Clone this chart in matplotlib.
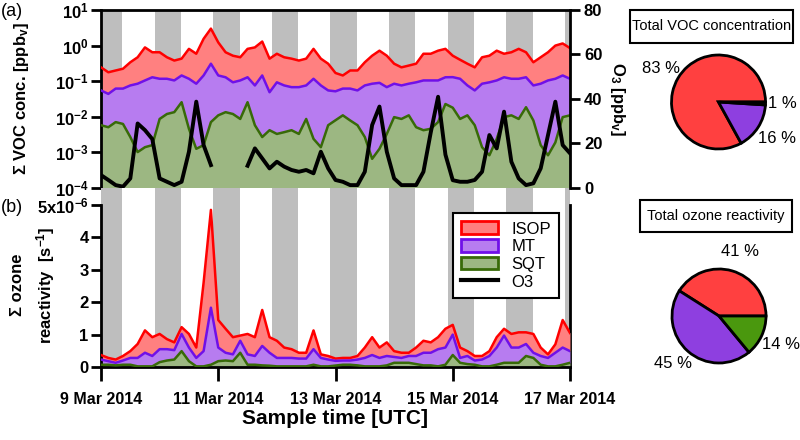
import numpy as np
import pandas as pd
import matplotlib
matplotlib.use('Agg')
import matplotlib.pyplot as plt
from matplotlib.patches import Rectangle, Patch
from matplotlib.lines import Line2D
from matplotlib.ticker import NullLocator

plt.rcParams['font.family'] = ['Liberation Sans', 'DejaVu Sans']
plt.rcParams['mathtext.fontset'] = 'custom'
plt.rcParams['mathtext.rm'] = 'Liberation Sans'
plt.rcParams['mathtext.bf'] = 'Liberation Sans:bold'
plt.rcParams['mathtext.it'] = 'Liberation Sans:italic'

# ---------------- data ----------------
times = pd.date_range('2014-03-09 00:00', '2014-03-17 00:00', freq='3h')

# (a) concentrations [ppbv]
voc_isop = [0.245, 0.178, 0.20, 0.224, 0.34, 0.47, 0.89, 0.65, 0.65, 0.47, 0.38, 0.43, 0.81, 0.59, 1.55, 3.0,
            1.23, 0.65, 0.52, 0.47, 0.81, 0.89, 1.3, 0.43, 0.59, 0.47, 0.43, 0.38, 0.43, 0.81, 0.43, 0.31,
            0.17, 0.145, 0.20, 0.20, 0.34, 0.52, 0.72, 0.52, 0.31, 0.245, 0.275, 0.31, 0.59, 0.59, 0.72, 0.81,
            0.52, 0.40, 0.31, 0.245, 0.47, 0.52, 0.72, 0.59, 0.65, 0.81, 0.65, 0.34, 0.47, 0.65, 1.0, 1.15, 0.85]
voc_mt = [0.055, 0.044, 0.062, 0.062, 0.076, 0.085, 0.105, 0.129, 0.117, 0.117, 0.105, 0.145, 0.117, 0.085, 0.145, 0.31,
          0.145, 0.129, 0.093, 0.105, 0.129, 0.076, 0.145, 0.049, 0.093, 0.076, 0.068, 0.068, 0.076, 0.117, 0.076, 0.055,
          0.052, 0.062, 0.062, 0.055, 0.076, 0.085, 0.09, 0.068, 0.085, 0.076, 0.085, 0.093, 0.105, 0.105, 0.105, 0.129,
          0.13, 0.117, 0.076, 0.055, 0.085, 0.093, 0.105, 0.129, 0.117, 0.117, 0.129, 0.076, 0.085, 0.105, 0.117, 0.145, 0.117]
voc_sqt = [0.0058, 0.0051, 0.0071, 0.0063, 0.0027, 0.00102, 0.0014, 0.0016, 0.0087, 0.012, 0.0135, 0.0257, 0.0046, 0.00126, 0.0016, 0.0071,
           0.011, 0.0135, 0.012, 0.0087, 0.0257, 0.0058, 0.0027, 0.0042, 0.0033, 0.0037, 0.0042, 0.0033, 0.0087, 0.0024, 0.0014, 0.0058,
           0.008, 0.011, 0.0079, 0.0058, 0.0027, 0.00066, 0.00126, 0.0033, 0.0098, 0.0087, 0.011, 0.0051, 0.0042, 0.0046, 0.0071, 0.0229,
           0.018, 0.0087, 0.011, 0.0058, 0.0014, 0.00083, 0.0024, 0.0098, 0.011, 0.0087, 0.0186, 0.0079, 0.0016, 0.00083, 0.0019, 0.0098, 0.011]
nan = np.nan
o3 = [5.8, 3.6, 1.3, 0.6, 4.3, 29, 26, 22, 4.3, 2.8, 1.3, 2.8, 16.3, 38.8, 19.3, 10.3,
      nan, nan, nan, nan, 10, 17.8, 13.3, 8.8, 11.8, 9.6, 8.1, 7.3, 8.1, 6.6, 16.3, 8.8,
      3.6, 2.8, 1.3, 1.3, 7.3, 28.3, 36.6, 16.3, 4.3, 1.3, 1.3, 1.3, 7.3, 25, 41, 15,
      3.5, 2.8, 2.8, 3.6, 7.3, 23.8, 17.8, 34.3, 11.8, 4.3, 1.3, 2.1, 8.8, 23.8, 38.8, 19.3, 15.6]

# (b) ozone reactivity contributions [1e-6 s^-1] (stacked)
react_isop = [0.14, 0.10, 0.10, 0.14, 0.21, 0.43, 0.69, 0.58, 0.47, 0.31, 0.24, 0.21, 0.42, 0.32, 2.11, 3.02,
              0.85, 0.74, 0.53, 0.16, 0.63, 0.58, 1.11, 0.48, 0.53, 0.32, 0.27, 0.18, 0.18, 0.58, 0.11, 0.11,
              0.07, 0.08, 0.08, 0.11, 0.32, 0.55, 0.32, 0.42, 0.18, 0.16, 0.10, 0.26, 0.37, 0.32, 0.37, 0.58,
              0.30, 0.32, 0.15, 0.14, 0.11, 0.15, 0.32, 0.21, 0.42, 0.47, 0.36, 0.58, 0.26, 0.11, 0.26, 0.85, 0.56]
react_mt = [0.16, 0.11, 0.08, 0.13, 0.21, 0.26, 0.42, 0.32, 0.40, 0.35, 0.29, 0.53, 0.42, 0.26, 0.47, 1.76,
            0.42, 0.24, 0.21, 0.37, 0.32, 0.27, 0.60, 0.40, 0.26, 0.26, 0.26, 0.24, 0.24, 0.48, 0.26, 0.21,
            0.145, 0.13, 0.13, 0.18, 0.26, 0.35, 0.26, 0.29, 0.18, 0.15, 0.21, 0.25, 0.39, 0.39, 0.53, 0.53,
            0.63, 0.15, 0.25, 0.13, 0.21, 0.32, 0.53, 0.84, 0.47, 0.47, 0.37, 0.16, 0.27, 0.26, 0.42, 0.53, 0.36]
react_sqt = [0.07, 0.07, 0.05, 0.07, 0.07, 0.02, 0.02, 0.02, 0.15, 0.20, 0.23, 0.49, 0.18, 0.02, 0.02, 0.07,
             0.18, 0.20, 0.18, 0.44, 0.07, 0.07, 0.05, 0.04, 0.02, 0.02, 0.02, 0.02, 0.02, 0.07, 0.02, 0.02,
             0.045, 0.07, 0.07, 0.05, 0.02, 0.02, 0.02, 0.05, 0.13, 0.13, 0.13, 0.09, 0.05, 0.05, 0.02, 0.07,
             0.37, 0.13, 0.09, 0.07, 0.02, 0.02, 0.07, 0.13, 0.13, 0.13, 0.34, 0.28, 0.07, 0.02, 0.02, 0.07, 0.13]

species = ['ISOP', 'MT', 'SQT']
voc_share = [83, 16, 1]
voc_share_labels = ['83 %', '16 %', '1 %']
react_share = [41, 45, 14]
react_share_labels = ['41 %', '45 %', '14 %']

night_days = pd.date_range('2014-03-08', '2014-03-16', freq='D')
night_start = pd.Timedelta(hours=21, minutes=55)
night_end = pd.Timedelta(days=1, hours=8, minutes=45)

tick_dates = pd.to_datetime(['2014-03-09', '2014-03-11', '2014-03-13', '2014-03-15', '2014-03-17'])
tick_labels = ['9 Mar 2014', '11 Mar 2014', '13 Mar 2014', '15 Mar 2014', '17 Mar 2014']
voc_ticks = [1e-4, 1e-3, 1e-2, 1e-1, 1e0, 1e1]
voc_tick_labels = [r'$\mathbf{10^{-4}}$', r'$\mathbf{10^{-3}}$', r'$\mathbf{10^{-2}}$',
                   r'$\mathbf{10^{-1}}$', r'$\mathbf{10^{0}}$', r'$\mathbf{10^{1}}$']
o3_ticks = [0, 20, 40, 60, 80]
react_ticks = [0, 1, 2, 3, 4, 5]
react_tick_labels = ['0', '1', '2', '3', '4', r'$\mathbf{5x10^{-6}}$']

# ---------------- style ----------------
line_c = {'ISOP': '#ff0000', 'MT': '#7010e8', 'SQT': '#386a08'}
fill_c = {'ISOP': '#ff8080', 'MT': '#b77cf0', 'SQT': '#9cb782'}
pie_c = ['#ff4040', '#8e3fe0', '#4a980e']
band_c = '#bebebe'
LW = 1.8

W, H = 800, 440
fig = plt.figure(figsize=(8, 4.4), dpi=100)

def fx(px):
    return px / W

def fy(py):
    return 1 - py / H

ax_a = fig.add_axes([fx(101), fy(188), fx(570) - fx(101), fy(10) - fy(188)])
ax_b = fig.add_axes([fx(101), fy(367), fx(570) - fx(101), fy(188) - fy(367)])
ax_o3 = ax_a.twinx()

xlim = (times[0], times[-1])
for ax in (ax_a, ax_b):
    for d in night_days:
        ax.axvspan(d + night_start, d + night_end, color=band_c, lw=0, zorder=0)
    ax.set_xlim(xlim)

# ---- panel a ----
ax_a.set_yscale('log')
ax_a.set_ylim(1e-4, 10)
base = 1e-4
for name, vals in zip(species, [voc_isop, voc_mt, voc_sqt]):
    ax_a.fill_between(times, base, vals, color=fill_c[name], lw=0, zorder=2)
    ax_a.plot(times, vals, color=line_c[name], lw=LW, zorder=3)
ax_a.set_yticks(voc_ticks)
ax_a.set_yticklabels(voc_tick_labels, fontsize=12)
ax_a.yaxis.set_minor_locator(NullLocator())
ax_a.tick_params(axis='y', direction='out', length=7, width=2, pad=2)
ax_a.tick_params(axis='x', bottom=False, labelbottom=False)
ax_a.spines['bottom'].set_visible(False)
ax_a.spines['right'].set_visible(False)
ax_a.spines['top'].set_linewidth(2)
ax_a.spines['left'].set_linewidth(2)

ax_o3.plot(times, o3, color='black', lw=2.8, zorder=4)
ax_o3.set_ylim(0, 80)
ax_o3.set_yticks(o3_ticks)
ax_o3.set_yticklabels([str(v) for v in o3_ticks], fontsize=12, fontweight='bold')
ax_o3.tick_params(axis='y', direction='out', length=7, width=2, pad=3)
for s in ('top', 'bottom', 'left'):
    ax_o3.spines[s].set_visible(False)
ax_o3.spines['right'].set_linewidth(2)
ax_o3.set_xlim(xlim)

# ---- panel b ----
sqt_arr = np.array(react_sqt)
lev1 = sqt_arr
lev2 = lev1 + np.array(react_mt)
lev3 = lev2 + np.array(react_isop)
ax_b.fill_between(times, lev2, lev3, color=fill_c['ISOP'], lw=0, zorder=2)
ax_b.fill_between(times, lev1, lev2, color=fill_c['MT'], lw=0, zorder=2)
ax_b.fill_between(times, 0, lev1, color=fill_c['SQT'], lw=0, zorder=2)
ax_b.plot(times, lev3, color=line_c['ISOP'], lw=LW, zorder=3)
ax_b.plot(times, lev2, color=line_c['MT'], lw=LW, zorder=3)
ax_b.plot(times, lev1, color=line_c['SQT'], lw=LW, zorder=3)
ax_b.set_ylim(0, 5 * 179 / 162)
ax_b.set_yticks(react_ticks)
ax_b.set_yticklabels(react_tick_labels, fontsize=12, fontweight='bold')
ax_b.tick_params(axis='y', direction='out', length=7, width=2, pad=2)
ax_b.set_xticks(tick_dates)
ax_b.set_xticklabels(tick_labels, fontsize=11.5, fontweight='bold')
ax_b.tick_params(axis='x', direction='out', length=10, width=2, pad=8)
ax_b.spines['top'].set_visible(False)
for s in ('left', 'right', 'bottom'):
    ax_b.spines[s].set_linewidth(2)
ax_b.spines['left'].set_bounds(0, 5)
ax_b.spines['right'].set_bounds(0, 5)
ax_b.spines['right'].set_zorder(1)

handles = [Patch(facecolor=fill_c[n], edgecolor=line_c[n], lw=2) for n in species]
handles.append(Line2D([], [], color='black', lw=3))
leg = ax_b.legend(handles, species + ['O3'], loc='upper left',
                  bbox_to_anchor=(fx(453), fy(213)), bbox_transform=fig.transFigure,
                  fancybox=False, framealpha=1, edgecolor='black', fontsize=12,
                  borderaxespad=0, handlelength=2.2, handleheight=0.8,
                  labelspacing=0.15, borderpad=0.5, handletextpad=0.8)
leg.get_frame().set_linewidth(1.5)
leg.set_zorder(10)

# ---- text labels ----
fig.text(fx(22), fy(99), r'Σ VOC conc. [ppb$_\mathbf{v}$]', rotation=90,
         ha='center', va='center', fontsize=12, fontweight='bold')
fig.text(fx(617), fy(99), r'O$_\mathbf{3}$ [ppb$_\mathbf{v}$]', rotation=270,
         ha='center', va='center', fontsize=12, fontweight='bold')
fig.text(fx(17), fy(285), 'Σ ozone', rotation=90, ha='center', va='center',
         fontsize=12, fontweight='bold')
fig.text(fx(46), fy(285), r'reactivity  [s$^\mathbf{-1}$]', rotation=90, ha='center',
         va='center', fontsize=12, fontweight='bold')
fig.text(fx(335), fy(418), 'Sample time [UTC]', ha='center', va='center',
         fontsize=15, fontweight='bold')
fig.text(fx(1), fy(12), '(a)', ha='left', va='center', fontsize=13)
fig.text(fx(1), fy(207), '(b)', ha='left', va='center', fontsize=13)

# ---- pies ----
def draw_pie(cx, cy, r, shares, labels, label_pos, title, box):
    size = 2 * r * 1.25
    ax = fig.add_axes([fx(cx - size / 2), fy(cy + size / 2), size / W, size / H])
    ax.pie(shares, colors=pie_c, startangle=0, counterclock=True,
           wedgeprops=dict(edgecolor='black', linewidth=2))
    ax.set_xlim(-1.25, 1.25)
    ax.set_ylim(-1.25, 1.25)
    for lab, (x, y, ha) in zip(labels, label_pos):
        ax.text(x, y, lab, ha=ha, va='center', fontsize=12)
    x0, y0, x1, y1 = box
    fig.patches.append(Rectangle((fx(x0), fy(y1)), (x1 - x0) / W, (y1 - y0) / H,
                                 transform=fig.transFigure, fill=False,
                                 edgecolor='black', lw=1.5))
    fig.text(fx((x0 + x1) / 2), fy((y0 + y1) / 2), title, ha='center', va='center',
             fontsize=10.5)

draw_pie(718.5, 102, 47, voc_share, voc_share_labels,
         [(-1.23, 0.72, 'center'), (0.83, -0.78, 'left'), (1.06, -0.03, 'left')],
         'Total VOC concentration', (630, 10, 793, 43))
draw_pie(719, 316, 47, react_share, react_share_labels,
         [(0.45, 1.38, 'center'), (-0.98, -1.02, 'center'), (0.91, -0.6, 'left')],
         'Total ozone reactivity', (640, 200, 792, 232))

fig.savefig('out.png', dpi=100)
